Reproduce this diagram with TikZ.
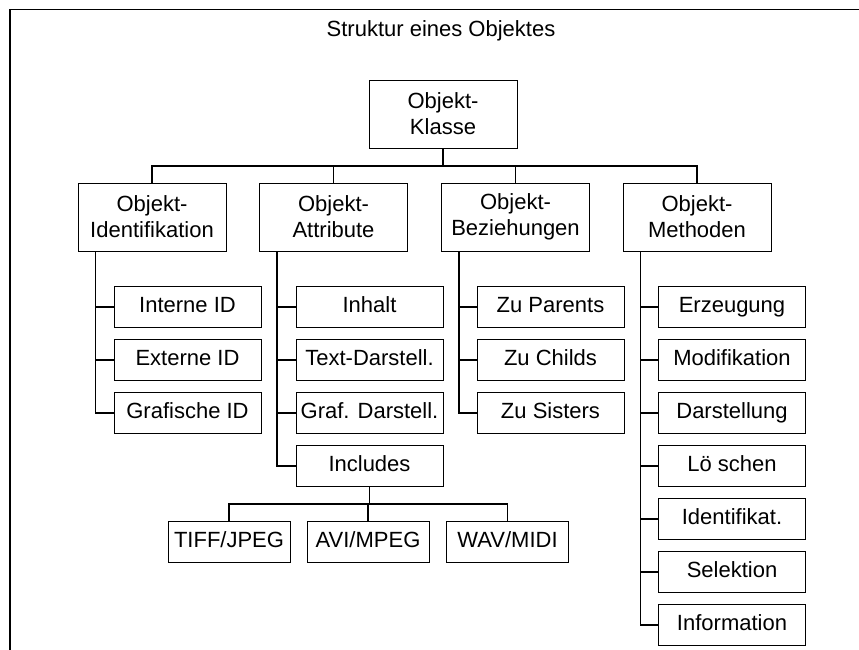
\documentclass[tikz,border=0pt]{standalone}
\usepackage{fontspec}
\setmainfont{Liberation Sans}
\usetikzlibrary{calc}
\tikzset{
  box/.style={draw, line width=0.9pt, inner sep=2pt, align=center,
    font=\fontsize{22}{26}\selectfont},
  head/.style={box, minimum width=148pt, minimum height=68pt},
  item/.style={box, minimum width=147pt, minimum height=41pt,
    text height=16pt, text depth=4.5pt},
  leaf/.style={item, minimum width=122pt},
  wire/.style={line width=1.5pt}
}

\begin{document}
\begin{tikzpicture}[x=1pt,y=-1pt]
      \def\dy{53}\def\ry{254}
      \useasboundingbox (0,0) rectangle (859,650);
      % Rahmen
      \draw [wire] (10,650) -- (10,9.5) -- (859,9.5);
      \node (titel) at (441,31) [font=\fontsize{22}{26}\selectfont] {Struktur eines Objektes};
      % Klasse und Gruppen
      \node [head] (klasse) at (443,114) {Objekt-\\Klasse};
      \node [head] (ident) at (152,217) {Objekt-\\Identifikation};
      \node [head] (attr) at (333.5,217) {Objekt-\\Attribute};
      \node [head] (bez) at (515.5,217) {Objekt-\\Beziehungen};
      \node [head] (meth) at (697,217) {Objekt-\\Methoden};
      % Eintraege
      \foreach \t [count=\i] in {Interne ID, Externe ID, Grafische ID}
        \node [item] (ident\i) at (187.5,\ry+\i*\dy) {\t};
      \foreach \t [count=\i] in {Inhalt, Text-Darstell., Graf. Darstell., Includes}
        \node [item] (attr\i) at (369.5,\ry+\i*\dy) {\t};
      \foreach \t [count=\i] in {Zu Parents, Zu Childs, Zu Sisters}
        \node [item] (bez\i) at (550.5,\ry+\i*\dy) {\t};
      \foreach \t [count=\i] in {Erzeugung, Modifikation, Darstellung, Lö schen,
                                 Identifikat., Selektion, Information}
        \node [item] (meth\i) at (732,\ry+\i*\dy) {\t};
      % Includes
      \node [leaf] (inc1) at (229,541.5) {TIFF/JPEG};
      \node [leaf] (inc2) at (368,541.5) {AVI/MPEG};
      \node [leaf] (inc3) at (507.5,541.5) {WAV/MIDI};
      % Verbindungen
      \foreach \n in {ident,attr,bez,meth}
        \draw [wire] (klasse.south) -- ++(0,17.5) -| (\n.north);
      \foreach \i in {1,...,3} {
        \draw [wire] ([xshift=18pt]ident.south west) |- (ident\i.west);
        \draw [wire] ([xshift=18pt]bez.south west) |- (bez\i.west);
        \draw [wire] (attr4.south) -- ++(0,17) -| (inc\i.north);
      }
      \foreach \i in {1,...,4}
        \draw [wire] ([xshift=18pt]attr.south west) |- (attr\i.west);
      \foreach \i in {1,...,7}
        \draw [wire] ([xshift=18pt]meth.south west) |- (meth\i.west);
    \end{tikzpicture}
\end{document}
